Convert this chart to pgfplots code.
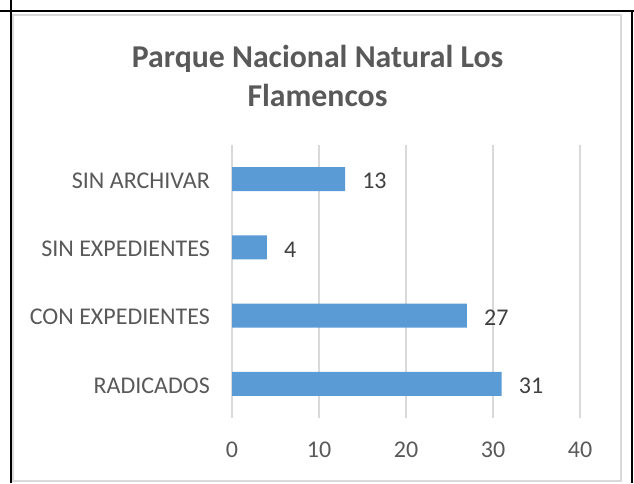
\documentclass[border=0pt]{standalone}
\usepackage{fontspec}
\setmainfont{Carlito}
\usepackage{pgfplots}
\pgfplotsset{compat=1.18}
\definecolor{txt}{HTML}{595959}
\definecolor{lbl}{HTML}{404040}
\definecolor{grd}{HTML}{D9D9D9}
\definecolor{barc}{HTML}{5B9BD5}
\begin{document}
\begin{tikzpicture}[x=1pt,y=1pt]
\useasboundingbox (0,0) rectangle (634,483);
\draw[grd, line width=2pt] (13,2) rectangle (621,468);
\draw[black, line width=2pt] (0,472) -- (634,472);
\draw[black, line width=2pt] (11,0) -- (11,483);
\draw[black, line width=2pt] (632,0) -- (632,472);
\node[anchor=base, text=txt, inner sep=0pt, font=\fontsize{31.8}{38}\selectfont\bfseries] at (317.5,415) {Parque Nacional Natural Los};
\node[anchor=base, text=txt, inner sep=0pt, font=\fontsize{31.8}{38}\selectfont\bfseries] at (317.5,376) {Flamencos};
\begin{axis}[
  at={(232pt,65pt)}, anchor=south west,
  scale only axis, width=348pt, height=273pt,
  xmin=0, xmax=40, ymin=-0.5, ymax=3.5,
  xbar, bar width=24pt,
  ytick={0,1,2,3},
  yticklabels={RADICADOS, CON EXPEDIENTES, SIN EXPEDIENTES, SIN ARCHIVAR},
  xtick={0,10,20,30,40},
  xmajorgrids, grid style={grd, line width=1.8pt},
  axis line style={draw=none},
  major tick length=0pt,
  tick label style={font=\fontsize{24}{29}\selectfont, text=txt, inner sep=0pt},
  yticklabel style={xshift=-22pt, yshift=-1.5pt},
  xticklabel style={yshift=-24pt},
  /pgf/number format/assume math mode=true,
  nodes near coords,
  nodes near coords style={anchor=west, inner sep=0pt, xshift=17pt, yshift=-2pt, font=\fontsize{24}{29}\selectfont, text=lbl},
  clip=false,
]
\addplot[fill=barc, draw=none] coordinates {(31,0) (27,1) (4,2) (13,3)};
\end{axis}
\end{tikzpicture}
\end{document}
